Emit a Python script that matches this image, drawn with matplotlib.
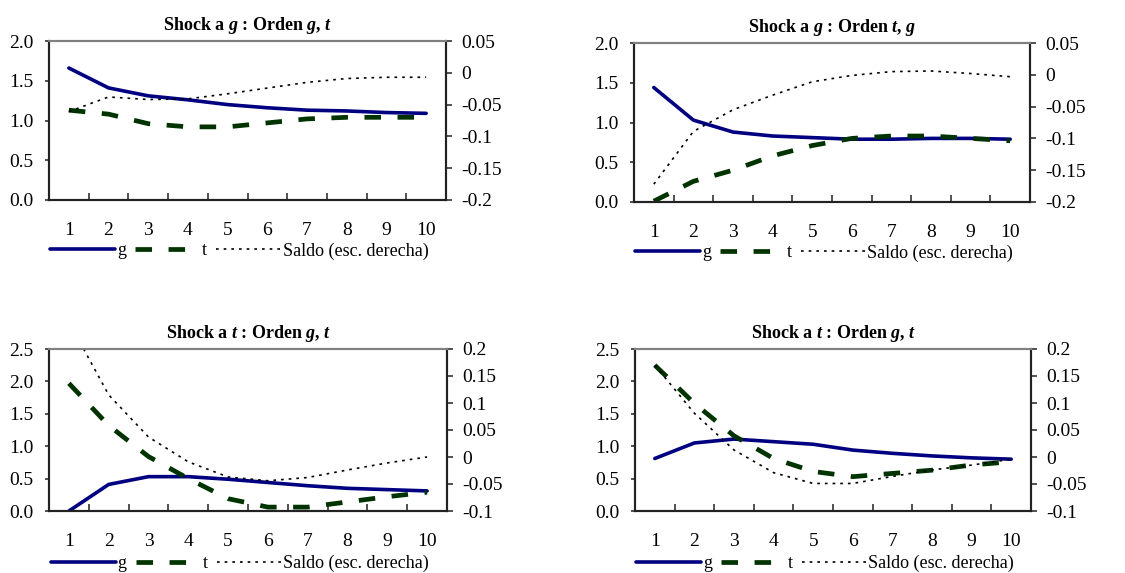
import numpy as np
import matplotlib
matplotlib.use("Agg")
import matplotlib.pyplot as plt
from matplotlib.ticker import FixedLocator, FuncFormatter

plt.rcParams['font.family'] = ['Liberation Serif', 'DejaVu Serif']
plt.rcParams['font.size'] = 14
plt.rcParams['axes.unicode_minus'] = False
plt.rcParams['mathtext.fontset'] = 'custom'
plt.rcParams['mathtext.rm'] = 'Liberation Serif'
plt.rcParams['mathtext.it'] = 'Liberation Serif:italic'
plt.rcParams['mathtext.bf'] = 'Liberation Serif:bold'
plt.rcParams['mathtext.bfit'] = 'Liberation Serif:italic:bold'

# datos
periodos = list(range(1, 11))

g_p1 = [1.66, 1.41, 1.31, 1.26, 1.20, 1.16, 1.13, 1.12, 1.10, 1.09]
t_p1 = [1.13, 1.08, 0.96, 0.92, 0.92, 0.97, 1.02, 1.04, 1.04, 1.04]
s_p1 = [-0.061, -0.038, -0.042, -0.041, -0.033, -0.024, -0.015, -0.009, -0.007, -0.007]

g_p2 = [1.44, 1.03, 0.88, 0.83, 0.81, 0.79, 0.79, 0.80, 0.80, 0.79]
t_p2 = [0.01, 0.26, 0.40, 0.58, 0.71, 0.80, 0.83, 0.83, 0.80, 0.77]
s_p2 = [-0.172, -0.089, -0.055, -0.032, -0.011, -0.001, 0.005, 0.006, 0.002, -0.003]

g_p3 = [0.00, 0.41, 0.53, 0.53, 0.49, 0.44, 0.39, 0.35, 0.33, 0.31]
t_p3 = [1.97, 1.32, 0.84, 0.50, 0.19, 0.06, 0.06, 0.14, 0.22, 0.29]
s_p3 = [0.25, 0.115, 0.037, -0.009, -0.037, -0.044, -0.038, -0.024, -0.011, 0.0]

g_p4 = [0.81, 1.05, 1.11, 1.07, 1.03, 0.94, 0.89, 0.85, 0.82, 0.80]
t_p4 = [2.25, 1.66, 1.16, 0.81, 0.61, 0.53, 0.58, 0.63, 0.71, 0.76]
s_p4 = [0.170, 0.081, 0.013, -0.029, -0.049, -0.049, -0.036, -0.024, -0.015, -0.004]

titulos = [r"Shock a $\mathbfit{g}$ : Orden $\mathbfit{g}$, $\mathbfit{t}$",
           r"Shock a $\mathbfit{g}$ : Orden $\mathbfit{t}$, $\mathbfit{g}$",
           r"Shock a $\mathbfit{t}$ : Orden $\mathbfit{g}$, $\mathbfit{t}$",
           r"Shock a $\mathbfit{t}$ : Orden $\mathbfit{g}$, $\mathbfit{t}$"]

izq_ticks = [[0.0, 0.5, 1.0, 1.5, 2.0]] * 2 + [[0.0, 0.5, 1.0, 1.5, 2.0, 2.5]] * 2
der_ticks = [[-0.2, -0.15, -0.1, -0.05, 0, 0.05]] * 2 + [[-0.1, -0.05, 0, 0.05, 0.1, 0.15, 0.2]] * 2

series = [(g_p1, t_p1, s_p1), (g_p2, t_p2, s_p2), (g_p3, t_p3, s_p3), (g_p4, t_p4, s_p4)]

W, H = 1125, 573
cajas = [(49, 41, 446, 200), (634, 43, 1030, 202), (49, 349, 447, 511), (635, 349, 1031, 511)]

fig = plt.figure(figsize=(W / 100, H / 100), dpi=100)

for i in range(4):
    x0, y0, x1, y1 = cajas[i]
    ax = fig.add_axes([x0 / W, 1 - y1 / H, (x1 - x0) / W, (y1 - y0) / H])
    ax2 = ax.twinx()
    g, t, s = series[i]

    lg, = ax.plot(periodos, g, color='#000080', lw=2.6, solid_capstyle='round', label='g')
    lt, = ax.plot(periodos, t, color='#003300', lw=3.4, dashes=(3.5, 3.5), label='t')
    ls, = ax2.plot(periodos, s, color='black', lw=1.2, dashes=(1.6, 3), label='Saldo (esc. derecha)')

    ax.set_xlim(0.5, 10.5)
    yl = izq_ticks[i]
    ax.set_ylim(yl[0], yl[-1])
    ax.yaxis.set_major_locator(FixedLocator(yl))
    ax.yaxis.set_major_formatter(FuncFormatter(lambda v, p: '%.1f' % v))
    yr = der_ticks[i]
    ax2.set_ylim(yr[0], yr[-1])
    ax2.yaxis.set_major_locator(FixedLocator(yr))
    ax2.yaxis.set_major_formatter(FuncFormatter(lambda v, p: '%g' % round(v, 3)))

    ax.set_xticks(periodos)
    ax.set_xticks(np.arange(1.5, 10, 1), minor=True)
    ax.tick_params(axis='x', which='major', length=0, pad=16)
    ax.tick_params(axis='x', which='minor', direction='in', length=5, width=1.2, color='#333333')
    ax.tick_params(axis='y', direction='out', length=3, width=1.2, pad=8, color='#333333')
    ax2.tick_params(axis='y', direction='out', length=4, width=1.2, pad=7, color='#333333')

    for a in (ax, ax2):
        for lado in ['left', 'right', 'bottom']:
            a.spines[lado].set_color('#222222')
            a.spines[lado].set_linewidth(1.5)
        a.spines['top'].set_color('#808080')
        a.spines['top'].set_linewidth(1.5)

    ax.set_title(titulos[i], fontsize=13, fontweight='bold', pad=8)
    ax.legend([lg, lt, ls], ['g', 't', 'Saldo (esc. derecha)'], loc='center',
              bbox_to_anchor=(0.48, -0.32 if i < 2 else -0.325), ncol=3, frameon=False,
              handlelength=3.6, handletextpad=0.1, columnspacing=0.5, borderpad=0,
              fontsize=13)

fig.savefig('out.png', dpi=100)
